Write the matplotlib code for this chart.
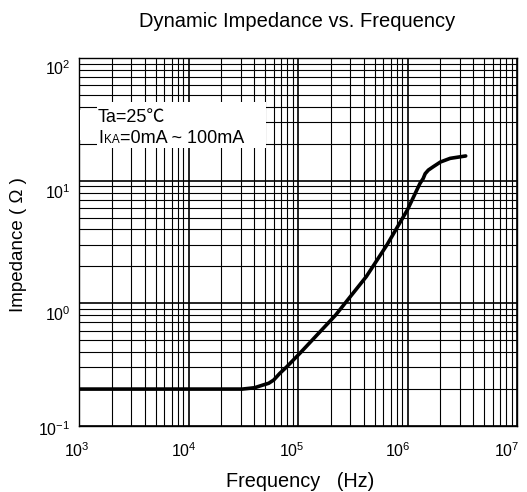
import matplotlib
matplotlib.use("Agg")
import matplotlib.pyplot as plt
import matplotlib.ticker as mticker
from matplotlib.patches import Rectangle
import matplotlib.transforms as mtransforms

plt.rcParams['font.family'] = ['Liberation Sans', 'Noto Sans CJK SC', 'DejaVu Sans']
plt.rcParams['mathtext.fontset'] = 'custom'
plt.rcParams['mathtext.rm'] = 'Liberation Sans'
plt.rcParams['mathtext.it'] = 'Liberation Sans:italic'
plt.rcParams['mathtext.bf'] = 'Liberation Sans:bold'

# ---- data ----
freq_hz = [1e3, 3.1e4, 4e4, 4.8e4, 5.4e4, 6e4, 6.8e4, 7.9e4, 1.05e5, 2.2e5, 4.2e5,
           6.5e5, 1e6, 1.3e6, 1.39e6, 1.45e6, 1.55e6, 1.72e6, 2e6, 2.45e6, 3.4e6]
impedance_ohm = [0.2, 0.2, 0.205, 0.216, 0.223, 0.237, 0.268, 0.304, 0.395, 0.8, 1.65,
                 3.0, 5.8, 9.5, 10.4, 11.4, 12.2, 13.0, 14.2, 15.2, 15.9]
x_ticks = [1e3, 1e4, 1e5, 1e6, 1e7]
y_ticks = [1e-1, 1e0, 1e1, 1e2]
title = "Dynamic Impedance vs. Frequency"
x_label = "Frequency   (Hz)"
y_label = "Impedance ( Ω )"
note_line1 = "Ta=25℃"
note_line2 = ["I", "KA", "=0mA ~ 100mA"]

W, H, DPI = 527, 492, 100
fig = plt.figure(figsize=(W / DPI, H / DPI), dpi=DPI)
fig.patch.set_facecolor('white')

ax_l, ax_r, ax_t, ax_b = 79, 517, 58, 426
ax = fig.add_axes([ax_l / W, 1 - ax_b / H, (ax_r - ax_l) / W, (ax_b - ax_t) / H])
ax.set_xscale('log')
ax.set_yscale('log')
ax.set_xlim(x_ticks[0], x_ticks[-1])
ax.set_ylim(y_ticks[0], y_ticks[-1])

ax.set_xticks(x_ticks)
ax.set_yticks(y_ticks)
ax.xaxis.set_major_formatter(mticker.LogFormatterSciNotation())
ax.yaxis.set_major_formatter(mticker.LogFormatterSciNotation())
ax.xaxis.set_minor_locator(mticker.LogLocator(base=10, subs=range(2, 10), numticks=20))
ax.yaxis.set_minor_locator(mticker.LogLocator(base=10, subs=range(2, 10), numticks=20))
ax.xaxis.set_minor_formatter(mticker.NullFormatter())
ax.yaxis.set_minor_formatter(mticker.NullFormatter())

ax.grid(which='major', color='black', lw=1.2, zorder=1)
ax.grid(which='minor', color='black', lw=0.8, zorder=1)
ax.tick_params(which='both', length=0)
ax.tick_params(axis='x', which='major', pad=11, labelsize=11.5)
ax.tick_params(axis='y', which='major', pad=6, labelsize=11.5)
for s in ax.spines.values():
    s.set_color('black')
    s.set_linewidth(1.0)

ax.plot(freq_hz, impedance_ohm, color='black', lw=2.6, solid_capstyle='round',
        solid_joinstyle='round', zorder=5)

# white note box
px = lambda v: (v - ax_l) / (ax_r - ax_l)
py = lambda v: (ax_b - v) / (ax_b - ax_t)
ax.add_patch(Rectangle((px(97), py(148)), px(266) - px(97), py(102) - py(148),
                       transform=ax.transAxes, facecolor='white', edgecolor='none', zorder=3))
blend = mtransforms.blended_transform_factory(ax.transAxes, ax.transData)
ax.add_patch(Rectangle((0.002, 21.5), px(97) - 0.002, 37.5 - 21.5,
                       transform=blend, facecolor='white', edgecolor='none', zorder=3))

fs_note = 13
ax.text(px(98), py(121.7), note_line1, transform=ax.transAxes, fontsize=fs_note,
        va='baseline', ha='left', zorder=4)

renderer = fig.canvas.get_renderer()
x0, y0 = px(98), py(142.7)
t1 = ax.text(x0, y0, note_line2[0], transform=ax.transAxes, fontsize=fs_note,
             va='baseline', ha='left', zorder=4)
w1 = t1.get_window_extent(renderer).width * 72 / DPI
t2 = ax.annotate(note_line2[1], xy=(x0, y0), xycoords='axes fraction',
                 xytext=(w1 + 0.8, 0), textcoords='offset points', fontsize=8.5,
                 va='baseline', ha='left', zorder=4)
w2 = t2.get_window_extent(renderer).width * 72 / DPI
ax.annotate(note_line2[2], xy=(x0, y0), xycoords='axes fraction',
            xytext=(w1 + w2 + 0.8, 0), textcoords='offset points', fontsize=fs_note,
            va='baseline', ha='left', zorder=4)

fig.text(297 / W, 1 - 21.5 / H, title, fontsize=14.5, ha='center', va='center')
fig.text(300 / W, 1 - 487 / H, x_label, fontsize=14.3, ha='center', va='baseline')
fig.text(19 / W, 1 - 245 / H, y_label, fontsize=13.5, ha='center', va='center',
         rotation=90)

# nudge tick labels to where the reference prints them (pixels)
x_shift = [-2, -4.5, -6, -9.5, -10]
y_shift = [2, 10, 10, 9]
for tk, dx in zip(ax.xaxis.get_major_ticks(), x_shift):
    tk.label1.set_transform(tk.label1.get_transform() + mtransforms.Affine2D().translate(dx, 0))
for tk, dy in zip(ax.yaxis.get_major_ticks(), y_shift):
    tk.label1.set_transform(tk.label1.get_transform() + mtransforms.Affine2D().translate(0, -dy))

fig.savefig('out.png', dpi=DPI, facecolor='white')
